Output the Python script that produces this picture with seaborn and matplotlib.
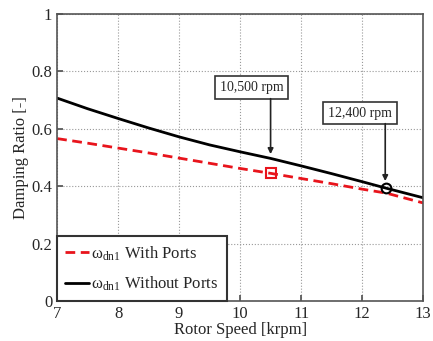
import matplotlib
matplotlib.use("Agg")
import matplotlib.pyplot as plt
import pandas as pd
import seaborn as sns

# rotor speed [krpm]
speed = [7, 7.5, 8, 8.5, 9, 9.5, 10, 10.5, 11, 11.5, 12, 12.4, 13]
with_ports = [0.566, 0.550, 0.533, 0.516, 0.498, 0.480, 0.462, 0.445,
              0.427, 0.409, 0.390, 0.376, 0.342]
without_ports = [0.707, 0.670, 0.636, 0.603, 0.572, 0.544, 0.520, 0.497,
                  0.471, 0.444, 0.416, 0.393, 0.360]

mark_speed = [10.5, 12.4]
mark_with = 0.445
mark_without = 0.393
mark_labels = ["10,500 rpm", "12,400 rpm"]

sns.set_theme(style="ticks")
plt.rcParams["font.family"] = ["Liberation Serif", "DejaVu Serif"]

df = pd.DataFrame({"speed": speed, "with": with_ports, "without": without_ports})

fig = plt.figure(figsize=(4.33, 3.41), dpi=100)
ax = fig.add_axes([0.132, 0.117, 0.845, 0.842])

sns.lineplot(data=df, x="speed", y="with", ax=ax, color="#e8141c", lw=2,
             linestyle=(0, (3.5, 2)), label=r"$\mathregular{\omega_{dn1}}$ With Ports")
sns.lineplot(data=df, x="speed", y="without", ax=ax, color="black", lw=2,
             label=r"$\mathregular{\omega_{dn1}}$ Without Ports")

# markers at the two highlighted speeds
ax.plot(mark_speed[0], mark_with, marker="s", ms=7, mfc="none", mec="#e8141c", mew=1.5)
ax.plot(mark_speed[1], mark_without, marker="o", ms=7, mfc="none", mec="black", mew=1.5)

bbox = dict(boxstyle="square,pad=0.35", fc="white", ec="#333333", lw=1.2)
arrow = dict(arrowstyle="-|>", color="#222222", lw=1.2, mutation_scale=8,
             shrinkA=0, shrinkB=0)
# text boxes
ax.text(10.19, 0.743, mark_labels[0], ha="center", va="center", fontsize=10, bbox=bbox)
ax.text(11.97, 0.655, mark_labels[1], ha="center", va="center", fontsize=10, bbox=bbox)
# vertical arrows from box bottoms
ax.annotate("", xy=(10.5, 0.512), xytext=(10.5, 0.705), arrowprops=arrow)
ax.annotate("", xy=(12.38, 0.418), xytext=(12.38, 0.618), arrowprops=arrow)

ax.set_xlim(7, 13)
ax.set_ylim(0, 1)
ax.set_xticks(range(7, 14))
ax.set_yticks([0, 0.2, 0.4, 0.6, 0.8, 1])
ax.set_yticklabels(["0", "0.2", "0.4", "0.6", "0.8", "1"])
ax.grid(True, linestyle=":", color="#999999", lw=0.8)
ax.tick_params(direction="in", labelsize=12, length=4, color="#555555")
for s in ax.spines.values():
    s.set_color("#555555")
    s.set_linewidth(1.2)

ax.set_xlabel("Rotor Speed [krpm]", fontsize=12, labelpad=0)
ax.set_ylabel("Damping Ratio [-]", fontsize=12, labelpad=2)

leg = ax.legend(loc="lower left", fontsize=12, handlelength=1.4, handletextpad=0.15,
                borderaxespad=0.0, fancybox=False, framealpha=1, borderpad=0.5,
                labelspacing=0.7)
leg.get_frame().set_edgecolor("#333333")
leg.get_frame().set_linewidth(1.5)

fig.savefig("out.png", dpi=100)
